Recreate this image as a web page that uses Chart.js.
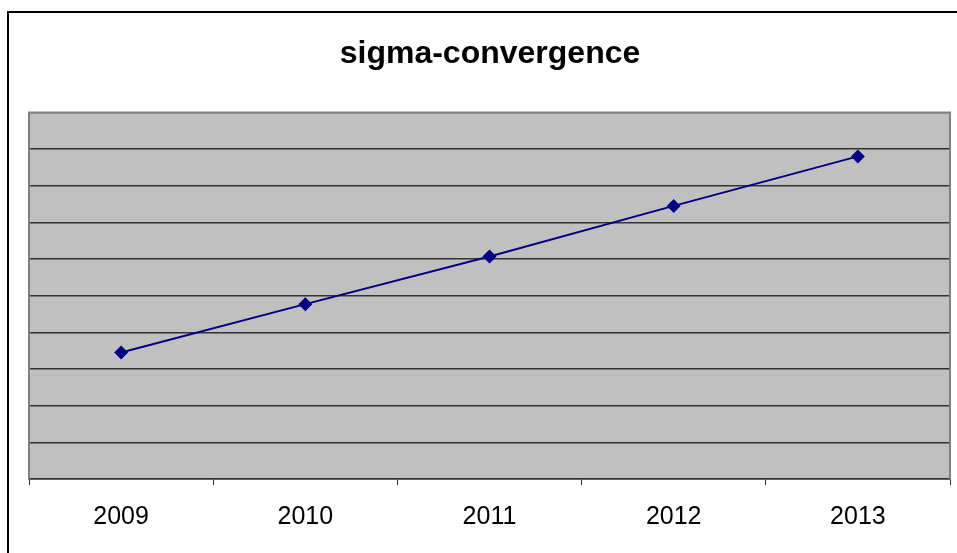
<!DOCTYPE html>
<html>
<head>
<meta charset="utf-8">
<script src="https://cdn.jsdelivr.net/npm/chart.js@4/dist/chart.umd.min.js"></script>
<style>
    html, body { margin: 0; padding: 0; background: #fff; overflow: hidden; }
    #frame {
        position: absolute; left: 7px; top: 11px;
        width: 1000px; height: 1000px;
        border: 2px solid #000;
    }
    #wrap { position: absolute; left: 0; top: 0; width: 957px; height: 553px; }
</style>
</head>
<body>
<div id="frame"></div>
<div id="wrap"><canvas id="chart"></canvas></div>
<script>
// data (y axis carries no labels, gridlines every 1 unit)
const years = ['2009', '2010', '2011', '2012', '2013'];
const sigmaValues = [3.45, 4.77, 6.07, 7.45, 8.80];
const yMin = 0;
const yMax = 10;

const plotAreaPlugin = {
    id: 'plotArea',
    beforeDraw(chart) {
        const { ctx, chartArea: a } = chart;
        ctx.save();
        ctx.fillStyle = '#c0c0c0';
        ctx.fillRect(a.left, a.top, a.right - a.left, a.bottom - a.top);
        ctx.restore();
    },
    beforeDatasetsDraw(chart) {
        const { ctx, chartArea: a } = chart;
        ctx.save();
        ctx.strokeStyle = '#808080';
        ctx.lineWidth = 2;
        ctx.beginPath();
        ctx.moveTo(a.left, a.bottom);
        ctx.lineTo(a.left, a.top);
        ctx.lineTo(a.right, a.top);
        ctx.lineTo(a.right, a.bottom);
        ctx.stroke();
        ctx.restore();
    }
};

const ctx = document.getElementById('chart').getContext('2d');
new Chart(ctx, {
    type: 'line',
    data: {
        labels: years,
        datasets: [{
            label: 'sigma',
            data: sigmaValues,
            borderColor: '#000080',
            backgroundColor: '#000080',
            borderWidth: 2,
            pointStyle: 'rectRot',
            pointRadius: 7,
            pointBorderWidth: 0,
            tension: 0,
            fill: false
        }]
    },
    options: {
        responsive: true,
        maintainAspectRatio: false,
        animation: false,
        layout: { padding: { left: 29, right: 6, top: 0, bottom: 4 } },
        plugins: {
            legend: { display: false },
            tooltip: { enabled: false },
            title: {
                display: true,
                text: 'sigma-convergence',
                color: '#000',
                font: { family: '"Liberation Sans", Arial, sans-serif', size: 32, weight: 'bold', lineHeight: 1.2 },
                padding: { top: 35, bottom: 39 }
            }
        },
        scales: {
            x: {
                offset: true,
                grid: {
                    display: true,
                    offset: true,
                    drawOnChartArea: false,
                    drawTicks: true,
                    tickLength: 6,
                    color: '#333'
                },
                border: { display: true, color: '#333', width: 1.5 },
                ticks: {
                    color: '#000',
                    padding: 17,
                    font: { family: '"Liberation Sans", Arial, sans-serif', size: 25 }
                }
            },
            y: {
                min: yMin,
                max: yMax,
                ticks: { display: false, stepSize: 1 },
                grid: {
                    drawTicks: false,
                    lineWidth: 1.5,
                    color: c => c.tick && c.tick.value === yMax ? '#808080' : '#333'
                },
                border: { display: false }
            }
        }
    },
    plugins: [plotAreaPlugin]
});
</script>
</body>
</html>
